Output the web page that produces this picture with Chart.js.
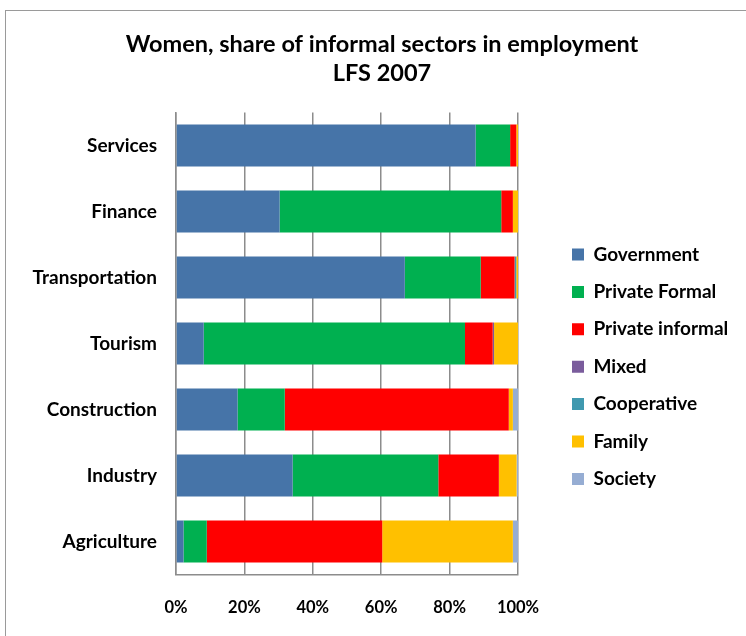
<!DOCTYPE html>
<html>
<head>
<meta charset="utf-8">
<script src="https://cdn.jsdelivr.net/npm/chart.js@4.4.1/dist/chart.umd.min.js"></script>
<style>
  html, body { margin: 0; padding: 0; background: #ffffff; overflow: hidden; }
  #wrap { position: relative; width: 746px; height: 636px; }
  #frame { position: absolute; left: 5px; top: 10px; width: 800px; height: 700px; border: 1.5px solid #9a9a9a; box-sizing: border-box; }
  #c { position: absolute; left: 0; top: 0; }
</style>
</head>
<body>
<div id="wrap">
  <div id="frame"></div>
  <canvas id="c" width="746" height="636"></canvas>
</div>
<script>
const categories = ['Services', 'Finance', 'Transportation', 'Tourism', 'Construction', 'Industry', 'Agriculture'];
const seriesNames = ['Government', 'Private Formal', 'Private informal', 'Mixed', 'Cooperative', 'Family', 'Society'];
const government      = [87.6, 30.3, 66.9,  8.1, 18.0, 34.1,  2.2];
const privateFormal   = [10.1, 64.8, 22.2, 76.4, 13.8, 42.6,  6.8];
const privateInformal = [ 1.8,  3.4,  9.9,  8.1, 65.5, 17.7, 51.3];
const mixed           = [ 0.0,  0.0,  0.0,  0.4,  0.0,  0.0,  0.0];
const cooperative     = [ 0.0,  0.0,  0.5,  0.0,  0.0,  0.0,  0.0];
const family          = [ 0.5,  1.5,  0.5,  7.0,  1.2,  5.2, 38.2];
const society         = [ 0.0,  0.0,  0.0,  0.0,  1.5,  0.4,  1.5];
const xTicks = [0, 20, 40, 60, 80, 100];
const titleLines = ['Women, share of informal sectors in employment', 'LFS 2007'];

const seriesValues = [government, privateFormal, privateInformal, mixed, cooperative, family, society];
const seriesColors = ['#4674A8', '#00B050', '#FF0000', '#7A5C9C', '#4099AF', '#FFC000', '#96ADD3'];

const FONT = "Lato, 'Liberation Sans', sans-serif";
const LEGEND_SIZE = 19;
const LEGEND_PAD = 18.4;
const BOX = 12;

// layout targets (pixels)
const PLOT_LEFT = 176, PLOT_RIGHT = 518, LEGEND_BOX_X = 572, TITLE_CENTER = 382;

// measure widest legend label to place the legend box
const mctx = document.createElement('canvas').getContext('2d');
mctx.font = 'bold ' + LEGEND_SIZE + 'px ' + FONT;
const maxLabelW = Math.max(...seriesNames.map(s => mctx.measureText(s).width));
const legendW = LEGEND_PAD + BOX + LEGEND_SIZE / 2 + maxLabelW + 10;
const padRight = Math.max(0, 746 - (LEGEND_BOX_X - LEGEND_PAD) - legendW);
const padLeft = 2 * TITLE_CENTER - 746 + padRight;
const gapW = LEGEND_BOX_X - LEGEND_PAD - PLOT_RIGHT;

const datasets = seriesNames.map((name, i) => ({
  label: name,
  data: seriesValues[i],
  backgroundColor: seriesColors[i],
  borderWidth: 0,
  barPercentage: 0.635,
  categoryPercentage: 1.0,
  xAxisID: 'x',
  yAxisID: 'y'
}));

new Chart(document.getElementById('c'), {
  type: 'bar',
  data: { labels: categories, datasets },
  options: {
    indexAxis: 'y',
    responsive: false,
    animation: false,
    devicePixelRatio: 1,
    layout: { padding: { left: padLeft, right: padRight, top: 0, bottom: 0 } },
    plugins: {
      tooltip: { enabled: false },
      title: {
        display: true,
        text: titleLines,
        color: '#000000',
        font: { family: FONT, size: 23.5, weight: 'bold', lineHeight: 29 / 23.5 },
        padding: { top: 29.5, bottom: 25 }
      },
      legend: {
        display: true,
        position: 'right',
        align: 'start',
        maxWidth: 400,
        title: { display: true, text: ' ', font: { size: 10, lineHeight: 1 }, padding: { top: 216.6, bottom: 0 } },
        labels: {
          color: '#000000',
          boxWidth: BOX,
          boxHeight: BOX,
          padding: LEGEND_PAD,
          font: { family: FONT, size: LEGEND_SIZE, weight: 'bold' }
        }
      }
    },
    scales: {
      x: {
        type: 'linear',
        stacked: true,
        min: 0,
        max: 100,
        afterBuildTicks: (scale) => { scale.ticks = xTicks.map(v => ({ value: v })); },
        afterFit: (scale) => { scale.height = 61.5; },
        ticks: {
          color: '#000000',
          padding: 23,
          font: { family: FONT, size: 16.5, weight: 'bold' },
          callback: (v) => v + '%'
        },
        grid: { color: '#8c8c8c', lineWidth: 1.5, drawTicks: false },
        border: { display: true, color: '#8c8c8c', width: 1.5 }
      },
      y: {
        type: 'category',
        stacked: true,
        afterFit: (scale) => { scale.width = PLOT_LEFT - padLeft; },
        ticks: {
          color: '#000000',
          padding: 19,
          font: { family: FONT, size: 19, weight: 'bold' }
        },
        grid: { display: false, drawTicks: false },
        border: { display: true, color: '#8c8c8c', width: 1.5 }
      },
      y2: {
        type: 'category',
        position: 'right',
        display: true,
        afterFit: (scale) => { scale.width = gapW; },
        ticks: { display: false },
        grid: { display: false, drawTicks: false },
        border: { display: false }
      }
    }
  }
});
</script>
</body>
</html>
